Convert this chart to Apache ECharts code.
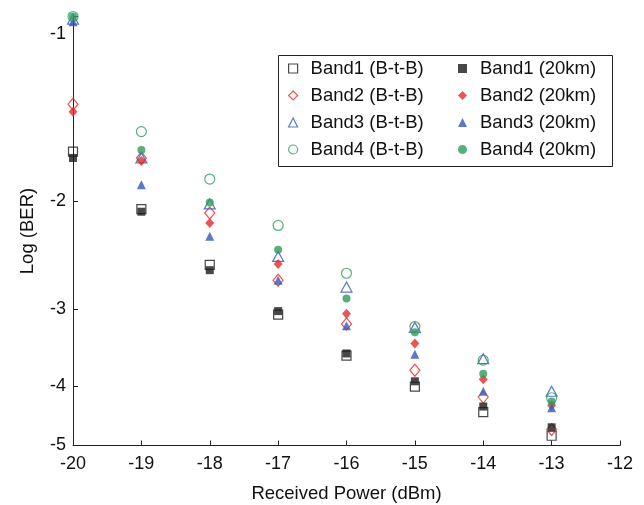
<!DOCTYPE html>
<html>
<head>
<meta charset="utf-8">
<script src="https://cdn.jsdelivr.net/npm/echarts@6/dist/echarts.min.js"></script>
<style>html,body{margin:0;padding:0;background:#fff}#c{width:644px;height:505px}</style>
</head>
<body>
<div id="c"></div>
<script>
// Received power (dBm)
const power = [-20, -19, -18, -17, -16, -15, -14, -13];
// Log(BER) values
const band1BtB  = [-1.66, -2.06, -2.54, -3.06, -3.57, -4.01, -4.41, -4.82];
const band2BtB  = [-1.39, -1.70, -2.09, -2.69, -3.17, -3.77, -4.17, -4.71];
const band3BtB  = [-1.01, -1.70, -2.02, -2.46, -2.76, -3.21, -3.61, -4.08];
const band4BtB  = [-1.00, -1.54, -1.84, -2.19, -2.62, -3.20, -3.63, -4.18];
const band1Km20 = [-1.70, -2.08, -2.59, -3.02, -3.54, -3.93, -4.32, -4.67];
const band2Km20 = [-1.43, -1.72, -2.17, -2.53, -3.05, -3.41, -3.90, -4.30];
const band3Km20 = [-1.02, -1.88, -2.28, -2.69, -3.19, -3.55, -4.08, -4.34];
const band4Km20 = [-1.00, -1.65, -2.01, -2.40, -2.88, -3.27, -3.82, -4.24];
const yTicks = [-1, -2, -3, -4, -5];
const xTicks = [-20, -19, -18, -17, -16, -15, -14, -13, -12];

const names = ['Band1 (B-t-B)', 'Band2 (B-t-B)', 'Band3 (B-t-B)', 'Band4 (B-t-B)',
               'Band1 (20km)', 'Band2 (20km)', 'Band3 (20km)', 'Band4 (20km)'];

// axis is linear in log10(-log(BER))
const tr = v => Math.log10(-v);
const toPts = arr => arr.map((v, i) => [power[i], tr(v)]);

const BLACK = '#1a1a1a', RED = '#e42a2a', BLUE = '#3557b6', GREEN = '#2e9b5e';
const FONT = 'Liberation Sans, Arial, sans-serif';

function openSeries(name, arr, symbol, size, color) {
  return {
    name, type: 'scatter', data: toPts(arr), symbol, symbolSize: size, clip: false,
    itemStyle: { color: 'rgba(0,0,0,0)', borderColor: color, borderWidth: 1.2 },
    emphasis: { disabled: true }
  };
}
function filledSeries(name, arr, symbol, size, color) {
  return {
    name, type: 'scatter', data: toPts(arr), symbol, symbolSize: size, clip: false,
    itemStyle: { color: color, borderWidth: 0 },
    emphasis: { disabled: true }
  };
}

const series = [
  openSeries(names[0], band1BtB, 'rect', 9, BLACK),
  openSeries(names[1], band2BtB, 'diamond', [10, 12], RED),
  openSeries(names[2], band3BtB, 'triangle', [11, 10], BLUE),
  openSeries(names[3], band4BtB, 'circle', 10, GREEN),
  filledSeries(names[4], band1Km20, 'rect', 8, BLACK),
  filledSeries(names[5], band2Km20, 'diamond', [9, 10], RED),
  filledSeries(names[6], band3Km20, 'triangle', [9, 9], BLUE),
  filledSeries(names[7], band4Km20, 'circle', 8, GREEN)
];

const legendCommon = {
  orient: 'vertical', top: 59, itemGap: 8, itemWidth: 9, itemHeight: 9, padding: 0,
  textStyle: { fontFamily: FONT, fontSize: 18.5, color: '#111', padding: [0, 0, 0, 8] },
  selectedMode: false
};

const chart = echarts.init(document.getElementById('c'), null, { renderer: 'canvas' });
chart.setOption({
  animation: false,
  backgroundColor: '#fff',
  grid: { left: 73, right: 24, top: 16.5, bottom: 59.5, containLabel: false, outerBoundsMode: 'none' },
  xAxis: {
    type: 'value', min: -20, max: -12, interval: 1,
    name: 'Received Power (dBm)', nameLocation: 'middle', nameGap: 38.5,
    nameTextStyle: { fontFamily: FONT, fontSize: 18.5, color: '#111' },
    axisLine: { onZero: false, lineStyle: { color: '#222', width: 1 } },
    axisTick: { inside: true, length: 5, lineStyle: { color: '#222' }, customValues: xTicks },
    axisLabel: { margin: 10, fontFamily: FONT, fontSize: 18, color: '#111', customValues: xTicks, formatter: v => String(v) },
    splitLine: { show: false }
  },
  yAxis: {
    type: 'value', min: 0, max: tr(-5), inverse: true,
    name: 'Log (BER)', nameLocation: 'middle', nameGap: 36,
    nameTextStyle: { fontFamily: FONT, fontSize: 18.5, color: '#111' },
    axisLine: { onZero: false, lineStyle: { color: '#222', width: 1 } },
    axisTick: { inside: true, length: 5, lineStyle: { color: '#222' }, customValues: yTicks.map(tr) },
    axisLabel: {
      margin: 7, fontFamily: FONT, fontSize: 18, color: '#111',
      customValues: yTicks.map(tr),
      formatter: v => { const n = Math.round(Math.pow(10, v)); return n === 1 ? '{a|-1}' : '-' + n; },
      rich: { a: { padding: [35, 0, 0, 0], fontFamily: FONT, fontSize: 18, color: '#111' } }
    },
    splitLine: { show: false }
  },
  legend: [
    Object.assign({}, legendCommon, { left: 288, data: names.slice(0, 4).map(n => ({ name: n, itemStyle: { borderWidth: 1.2 } })) }),
    Object.assign({}, legendCommon, { left: 458, data: names.slice(4).map(n => ({ name: n })) })
  ],
  graphic: [{
    type: 'rect', left: 276, top: 53, shape: { x: 0, y: 0, width: 334, height: 111 },
    style: { fill: 'none', stroke: '#222', lineWidth: 1 }, silent: true
  }],
  series
});
</script>
</body>
</html>
